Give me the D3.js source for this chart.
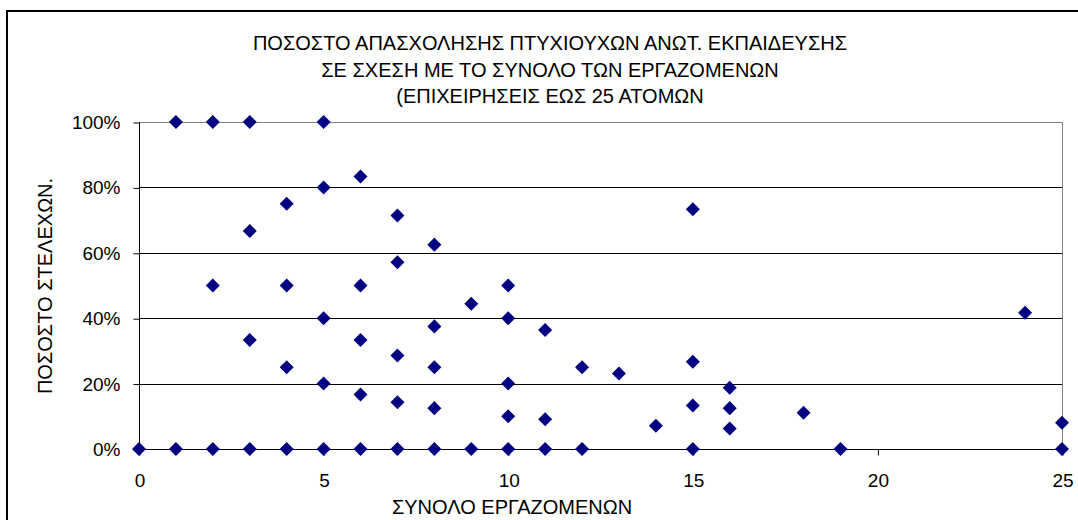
<!DOCTYPE html>
<html>
<head>
<meta charset="utf-8">
<title>Scatter</title>
<style>
  body { margin: 0; background: #fff; }
  svg { display: block; font-family: "Liberation Sans", Arial, sans-serif; }
</style>
</head>
<body>
<svg id="chart" width="1078" height="520"></svg>
<script src="https://cdn.jsdelivr.net/npm/d3@7"></script>
<script>
// total employees (x) and share of graduates in % (y), one entry per firm
var employees = [0, 1, 1, 2, 2, 2, 3, 3, 3, 3, 4, 4, 4, 4,
  5, 5, 5, 5, 5, 6, 6, 6, 6, 6, 7, 7, 7, 7, 7, 8, 8, 8, 8, 8,
  9, 9, 10, 10, 10, 10, 10, 11, 11, 11, 12, 12, 13, 14,
  15, 15, 15, 15, 16, 16, 16, 18, 19, 24, 25, 25];
var share = [0, 100, 0, 100, 50, 0, 100, 66.7, 33.3, 0, 75, 50, 25, 0,
  100, 80, 40, 20, 0, 83.3, 50, 33.3, 16.7, 0, 71.4, 57.1, 28.6, 14.3, 0, 62.5, 37.5, 25, 12.5, 0,
  44.4, 0, 50, 40, 20, 10, 0, 36.4, 9.1, 0, 25, 0, 23.1, 7.1,
  73.3, 26.7, 13.3, 0, 18.75, 12.5, 6.25, 11.1, 0, 41.7, 8, 0];

var titleLines = ["ΠΟΣΟΣΤΟ ΑΠΑΣΧΟΛΗΣΗΣ ΠΤΥΧΙΟΥΧΩΝ ΑΝΩΤ. ΕΚΠΑΙΔΕΥΣΗΣ",
  "ΣΕ ΣΧΕΣΗ ΜΕ ΤΟ ΣΥΝΟΛΟ ΤΩΝ ΕΡΓΑΖΟΜΕΝΩΝ",
  "(ΕΠΙΧΕΙΡΗΣΕΙΣ ΕΩΣ 25 ΑΤΟΜΩΝ"];
var xTicks = [0, 5, 10, 15, 20, 25];
var yTicks = [0, 20, 40, 60, 80, 100];
var xTitle = "ΣΥΝΟΛΟ ΕΡΓΑΖΟΜΕΝΩΝ";
var yTitle = "ΠΟΣΟΣΤΟ ΣΤΕΛΕΧΩΝ.";

var svg = d3.select('#chart');
var plotL = 139, plotR = 1062, plotT = 122, plotB = 449;

var x = d3.scaleLinear().domain([0, 25]).range([plotL, plotR]);
var y = d3.scaleLinear().domain([0, 100]).range([plotB, plotT]);

// outer chart border
svg.append('rect')
  .attr('x', 7).attr('y', 11)
  .attr('width', 1100).attr('height', 540)
  .attr('fill', 'none').attr('stroke', '#000').attr('stroke-width', 2);

// title
svg.append('g').selectAll('text')
  .data(titleLines)
  .enter().append('text')
  .attr('x', 550)
  .attr('y', function (d, i) { return 50 + i * 26.5 })
  .attr('text-anchor', 'middle')
  .attr('font-size', 20)
  .text(function (d) { return d });

// gridlines
svg.append('g').selectAll('line')
  .data(yTicks.filter(function (t) { return t > 0 && t < 100 }))
  .enter().append('line')
  .attr('x1', plotL).attr('x2', plotR)
  .attr('y1', function (d) { return Math.round(y(d)) + 0.5 })
  .attr('y2', function (d) { return Math.round(y(d)) + 0.5 })
  .attr('stroke', '#000');

// plot frame (top and right edges gray)
svg.append('path')
  .attr('d', 'M' + plotL + ',' + (plotT + 0.5) + 'H' + (plotR + 0.5) + 'V' + plotB)
  .attr('fill', 'none').attr('stroke', '#808080');

// axes
var yAxis = d3.axisLeft(y).tickValues(yTicks).tickSize(6).tickPadding(13)
  .tickFormat(function (d) { return d + '%' });
var xAxis = d3.axisBottom(x).tickValues(xTicks).tickSize(6).tickPadding(18)
  .tickFormat(d3.format('d'));

var gy = svg.append('g').attr('transform', 'translate(' + (plotL + 0.5) + ',0.5)').call(yAxis);
var gx = svg.append('g').attr('transform', 'translate(0.5,' + (plotB + 0.5) + ')').call(xAxis);
[gx, gy].forEach(function (g) {
  g.select('.domain').attr('stroke', '#000');
  g.selectAll('.tick line').attr('stroke', '#000');
  g.selectAll('.tick text').attr('fill', '#000').attr('font-size', 19)
    .attr('font-family', '"Liberation Sans", Arial, sans-serif');
});
gx.select('.domain').attr('d', 'M' + plotL + ',0H' + plotR);
gy.select('.domain').attr('d', 'M0,' + plotT + 'V' + plotB);

// axis titles
svg.append('text')
  .attr('x', 512).attr('y', 514)
  .attr('text-anchor', 'middle').attr('font-size', 20)
  .text(xTitle);
svg.append('text')
  .attr('transform', 'translate(52,286) rotate(-90)')
  .attr('text-anchor', 'middle').attr('font-size', 20)
  .text(yTitle);

// points
svg.append('g').selectAll('path')
  .data(employees.map(function (e, i) { return [e, share[i]] }))
  .enter().append('path')
  .attr('d', d3.symbol().type(d3.symbolDiamond2).size(125))
  .attr('transform', function (d) { return 'translate(' + x(d[0]) + ',' + y(d[1]) + ')' })
  .attr('fill', '#000080');
</script>
</body>
</html>
